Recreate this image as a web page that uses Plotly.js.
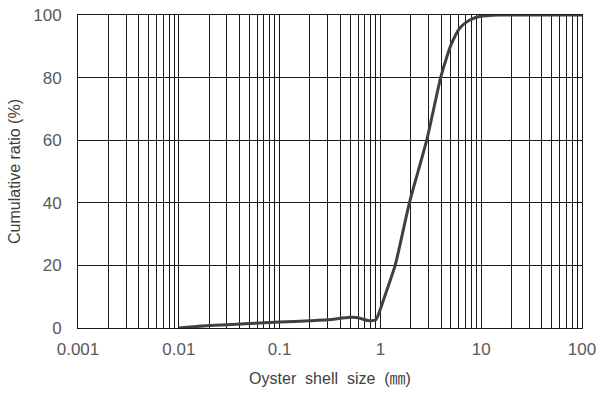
<!DOCTYPE html>
<html>
<head>
<meta charset="utf-8">
<script src="https://cdn.plot.ly/plotly-3.0.1.min.js"></script>
<style>html,body{margin:0;padding:0;background:#fff;}#chart{width:600px;height:396px;}</style>
</head>
<body>
<div id="chart"></div>
<script>
// Particle size (mm) and cumulative ratio (%)
const sizeMm = [0.01, 0.02, 0.05, 0.1, 0.2, 0.3, 0.5, 0.6, 0.75, 0.9, 0.96, 1.1, 1.4, 1.94, 2.88, 3.96, 4.6, 5.1, 6.2, 7.7, 9.6, 15, 20, 100];
const cumulative = [0, 0.8, 1.4, 1.9, 2.3, 2.6, 3.4, 3.3, 2.4, 2.6, 4.5, 10, 20, 40, 60, 80, 87, 91, 96, 98.4, 99.5, 100, 100, 100];

// Grid positions on the log axis and their labels
const decades = [0.001, 0.01, 0.1, 1, 10];
const decadeLabels = ['0.001', '0.01', '0.1', '1', '10', '100'];
const xTickVals = [];
const xTickText = [];
decades.forEach((d, i) => {
  for (let m = 1; m <= 9; m++) {
    xTickVals.push(d * m);
    xTickText.push(m === 1 ? decadeLabels[i] : '');
  }
});
xTickVals.push(100);
xTickText.push(decadeLabels[5]);

const yTickVals = [0, 20, 40, 60, 80, 100];

const font = {family: 'Liberation Sans, Arial, sans-serif', size: 17, color: '#595959'};

Plotly.newPlot('chart', [{
  x: sizeMm,
  y: cumulative,
  type: 'scatter',
  mode: 'lines',
  line: {color: '#404040', width: 3, shape: 'spline', smoothing: 0.6},
  hoverinfo: 'skip'
}], {
  width: 600,
  height: 396,
  margin: {l: 78, r: 18, t: 15, b: 68},
  paper_bgcolor: '#fff',
  plot_bgcolor: '#fff',
  showlegend: false,
  font: font,
  xaxis: {
    type: 'log',
    range: [-3, 2],
    tickmode: 'array',
    tickvals: xTickVals,
    ticktext: xTickText,
    showgrid: true,
    gridcolor: '#1a1a1a',
    gridwidth: 1,
    showline: true,
    linecolor: '#1a1a1a',
    linewidth: 1,
    mirror: true,
    ticks: 'outside',
    ticklen: 6,
    tickcolor: 'rgba(0,0,0,0)',
    tickfont: font,
    zeroline: false,
    title: {text: 'Oyster\u00a0 shell\u00a0 size\u00a0 (㎜)', font: {family: 'Liberation Sans, Noto Sans CJK JP, sans-serif', size: 16, color: '#404040'}, standoff: 14}
  },
  yaxis: {
    range: [0, 100],
    tickmode: 'array',
    tickvals: yTickVals,
    showgrid: true,
    gridcolor: '#1a1a1a',
    gridwidth: 1,
    showline: true,
    linecolor: '#1a1a1a',
    linewidth: 1,
    mirror: true,
    ticks: 'outside',
    ticklen: 12,
    tickcolor: 'rgba(0,0,0,0)',
    tickfont: font,
    zeroline: false,
    title: {text: 'Cumulative ratio (%)', font: {family: 'Liberation Sans, Arial, sans-serif', size: 16, color: '#404040'}, standoff: 8}
  }
}, {displayModeBar: false, staticPlot: true});
</script>
</body>
</html>
